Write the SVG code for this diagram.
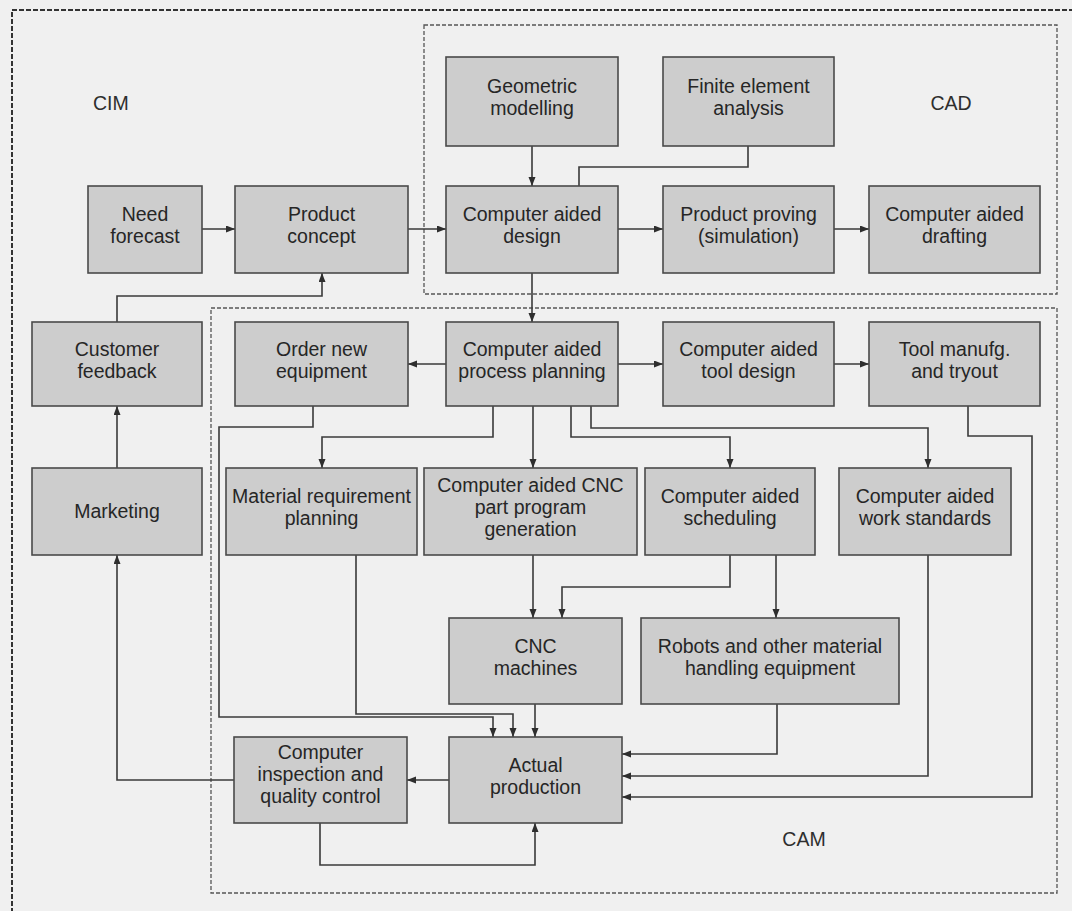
<svg xmlns="http://www.w3.org/2000/svg" width="1072" height="911" viewBox="0 0 1072 911">
  <style>
    .box { fill: #cdcdcd; stroke: #4a4a4a; stroke-width: 1.6; }
    .t { font-family: "Liberation Sans", Arial, sans-serif; font-size: 19.5px; fill: #262626; text-anchor: middle; }
    .zone { font-family: "Liberation Sans", Arial, sans-serif; font-size: 19.5px; fill: #2e2e2e; }
    .wire { fill: none; stroke: #3a3a3a; stroke-width: 1.6; }
    .arr { marker-end: url(#ah); }
    .outer { fill: none; stroke: #333; stroke-width: 2; stroke-dasharray: 5 2; }
    .group { fill: none; stroke: #555; stroke-width: 1.3; stroke-dasharray: 4 2; }
  </style>
  <defs>
    <marker id="ah" markerUnits="userSpaceOnUse" markerWidth="10" markerHeight="8" refX="9" refY="3.5" orient="auto">
      <path d="M0,0 L9,3.5 L0,7 z" fill="#2e2e2e"/>
    </marker>
  </defs>

  <rect x="0" y="0" width="1072" height="911" fill="#f0f0f0"/>

  <!-- system boundaries -->
  <g id="boundaries">
    <rect class="outer" x="12" y="10" width="1090" height="940"/>
    <rect class="group" x="424" y="25" width="633" height="269"/>
    <rect class="group" x="211" y="308" width="846" height="585"/>
    <text class="zone" x="93" y="110">CIM</text>
    <text class="zone" x="951" y="110" text-anchor="middle">CAD</text>
    <text class="zone" x="804" y="846" text-anchor="middle">CAM</text>
  </g>

  <!-- connectors -->
  <g id="connectors">
    <path class="wire arr" d="M202,229 H235"/>
    <path class="wire arr" d="M408,229 H446"/>
    <path class="wire arr" d="M618,229 H663"/>
    <path class="wire arr" d="M834,229 H869"/>
    <path class="wire arr" d="M532,146 V186"/>
    <path class="wire" d="M748,146 V167 H579 V186"/>
    <path class="wire arr" d="M532,273 V322"/>
    <path class="wire arr" d="M117,322 V296 H322 V273"/>
    <path class="wire arr" d="M117,468 V406"/>
    <path class="wire arr" d="M446,364 H408"/>
    <path class="wire arr" d="M618,364 H663"/>
    <path class="wire arr" d="M834,364 H869"/>
    <path class="wire arr" d="M493,406 V437 H322 V468"/>
    <path class="wire arr" d="M533,406 V468"/>
    <path class="wire arr" d="M571,406 V437 H730 V468"/>
    <path class="wire arr" d="M591,406 V428 H928 V468"/>
    <path class="wire arr" d="M313,406 V427 H219 V717 H493 V737"/>
    <path class="wire arr" d="M356,555 V714 H513 V737"/>
    <path class="wire arr" d="M533,555 V618"/>
    <path class="wire arr" d="M730,555 V587 H562 V618"/>
    <path class="wire arr" d="M776,555 V618"/>
    <path class="wire arr" d="M535,704 V737"/>
    <path class="wire arr" d="M777,704 V754 H622"/>
    <path class="wire arr" d="M928,555 V776 H622"/>
    <path class="wire arr" d="M968,406 V436 H1032 V797 H622"/>
    <path class="wire arr" d="M449,780 H407"/>
    <path class="wire arr" d="M234,780 H117 V555"/>
    <path class="wire arr" d="M320,823 V865 H535 V823"/>
  </g>

  <!-- nodes -->
  <g id="need-forecast">
    <rect class="box" x="88" y="186" width="114" height="87"/>
    <text class="t" x="145" y="221">Need</text>
    <text class="t" x="145" y="243">forecast</text>
  </g>
  <g id="product-concept">
    <rect class="box" x="235" y="186" width="173" height="87"/>
    <text class="t" x="321.5" y="221">Product</text>
    <text class="t" x="321.5" y="243">concept</text>
  </g>
  <g id="computer-aided-design">
    <rect class="box" x="446" y="186" width="172" height="87"/>
    <text class="t" x="532" y="221">Computer aided</text>
    <text class="t" x="532" y="243">design</text>
  </g>
  <g id="product-proving">
    <rect class="box" x="663" y="186" width="171" height="87"/>
    <text class="t" x="748.5" y="221">Product proving</text>
    <text class="t" x="748.5" y="243">(simulation)</text>
  </g>
  <g id="computer-aided-drafting">
    <rect class="box" x="869" y="186" width="171" height="87"/>
    <text class="t" x="954.5" y="221">Computer aided</text>
    <text class="t" x="954.5" y="243">drafting</text>
  </g>
  <g id="geometric-modelling">
    <rect class="box" x="446" y="57" width="172" height="89"/>
    <text class="t" x="532" y="93">Geometric</text>
    <text class="t" x="532" y="115">modelling</text>
  </g>
  <g id="finite-element-analysis">
    <rect class="box" x="663" y="57" width="171" height="89"/>
    <text class="t" x="748.5" y="93">Finite element</text>
    <text class="t" x="748.5" y="115">analysis</text>
  </g>
  <g id="customer-feedback">
    <rect class="box" x="32" y="322" width="170" height="84"/>
    <text class="t" x="117" y="356">Customer</text>
    <text class="t" x="117" y="378">feedback</text>
  </g>
  <g id="order-new-equipment">
    <rect class="box" x="235" y="322" width="173" height="84"/>
    <text class="t" x="321.5" y="356">Order new</text>
    <text class="t" x="321.5" y="378">equipment</text>
  </g>
  <g id="process-planning">
    <rect class="box" x="446" y="322" width="172" height="84"/>
    <text class="t" x="532" y="356">Computer aided</text>
    <text class="t" x="532" y="378">process planning</text>
  </g>
  <g id="tool-design">
    <rect class="box" x="663" y="322" width="171" height="84"/>
    <text class="t" x="748.5" y="356">Computer aided</text>
    <text class="t" x="748.5" y="378">tool design</text>
  </g>
  <g id="tool-manufacture">
    <rect class="box" x="869" y="322" width="171" height="84"/>
    <text class="t" x="954.5" y="356">Tool manufg.</text>
    <text class="t" x="954.5" y="378">and tryout</text>
  </g>
  <g id="marketing">
    <rect class="box" x="32" y="468" width="170" height="87"/>
    <text class="t" x="117" y="518">Marketing</text>
  </g>
  <g id="material-requirement-planning">
    <rect class="box" x="226" y="468" width="191" height="87"/>
    <text class="t" x="321.5" y="503">Material requirement</text>
    <text class="t" x="321.5" y="525">planning</text>
  </g>
  <g id="cnc-part-program">
    <rect class="box" x="424" y="468" width="213" height="87"/>
    <text class="t" x="530.5" y="492">Computer aided CNC</text>
    <text class="t" x="530.5" y="514">part program</text>
    <text class="t" x="530.5" y="536">generation</text>
  </g>
  <g id="scheduling">
    <rect class="box" x="645" y="468" width="170" height="87"/>
    <text class="t" x="730" y="503">Computer aided</text>
    <text class="t" x="730" y="525">scheduling</text>
  </g>
  <g id="work-standards">
    <rect class="box" x="839" y="468" width="172" height="87"/>
    <text class="t" x="925" y="503">Computer aided</text>
    <text class="t" x="925" y="525">work standards</text>
  </g>
  <g id="cnc-machines">
    <rect class="box" x="449" y="618" width="173" height="86"/>
    <text class="t" x="535.5" y="653">CNC</text>
    <text class="t" x="535.5" y="675">machines</text>
  </g>
  <g id="robots">
    <rect class="box" x="641" y="618" width="258" height="86"/>
    <text class="t" x="770" y="653">Robots and other material</text>
    <text class="t" x="770" y="675">handling equipment</text>
  </g>
  <g id="inspection">
    <rect class="box" x="234" y="737" width="173" height="86"/>
    <text class="t" x="320.5" y="759">Computer</text>
    <text class="t" x="320.5" y="781">inspection and</text>
    <text class="t" x="320.5" y="803">quality control</text>
  </g>
  <g id="actual-production">
    <rect class="box" x="449" y="737" width="173" height="86"/>
    <text class="t" x="535.5" y="772">Actual</text>
    <text class="t" x="535.5" y="794">production</text>
  </g>
</svg>
